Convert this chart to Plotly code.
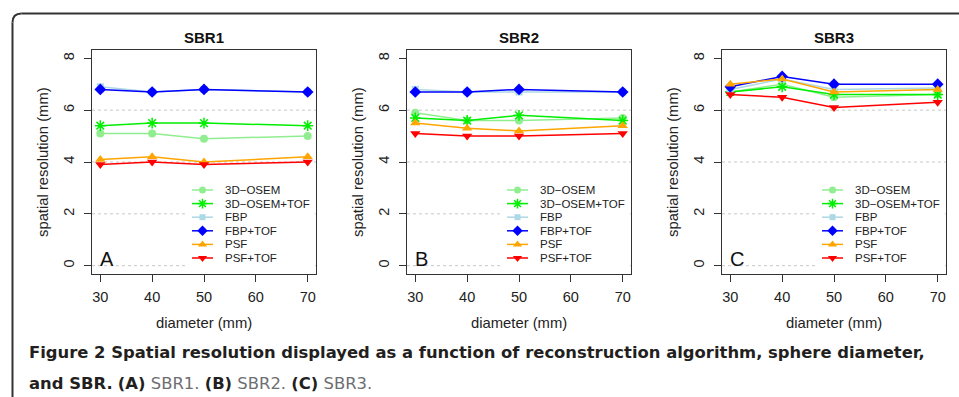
import plotly.graph_objects as go

# ---------------- data ----------------
diameters = [30, 40, 50, 70]
x_ticks = [30, 40, 50, 60, 70]
y_ticks = [0, 2, 4, 6, 8]
grid_values = [0, 2, 4, 6]
series_names = ["3D\u2212OSEM", "3D\u2212OSEM+TOF", "FBP", "FBP+TOF", "PSF", "PSF+TOF"]
panel_titles = ["SBR1", "SBR2", "SBR3"]
panel_letters = ["A", "B", "C"]

sbr1_osem = [5.1, 5.1, 4.9, 5.0]
sbr1_osem_tof = [5.4, 5.5, 5.5, 5.4]
sbr1_fbp = [6.9, 6.7, 6.8, 6.7]
sbr1_fbp_tof = [6.8, 6.7, 6.8, 6.7]
sbr1_psf = [4.1, 4.2, 4.0, 4.2]
sbr1_psf_tof = [3.9, 4.0, 3.9, 4.0]

sbr2_osem = [5.9, 5.6, 5.6, 5.7]
sbr2_osem_tof = [5.7, 5.6, 5.8, 5.6]
sbr2_fbp = [6.8, 6.7, 6.7, 6.7]
sbr2_fbp_tof = [6.7, 6.7, 6.8, 6.7]
sbr2_psf = [5.5, 5.3, 5.2, 5.4]
sbr2_psf_tof = [5.1, 5.0, 5.0, 5.1]

sbr3_osem = [6.7, 7.0, 6.5, 6.6]
sbr3_osem_tof = [6.7, 6.9, 6.6, 6.6]
sbr3_fbp = [6.8, 7.2, 6.8, 6.85]
sbr3_fbp_tof = [6.9, 7.3, 7.0, 7.0]
sbr3_psf = [7.0, 7.2, 6.7, 6.8]
sbr3_psf_tof = [6.6, 6.5, 6.1, 6.3]

caption_line1 = "Figure 2 Spatial resolution displayed as a function of reconstruction algorithm, sphere diameter,"
caption_line2 = ["and SBR.", "(A)", "SBR1.", "(B)", "SBR2.", "(C)", "SBR3."]

panels = [
    [sbr1_osem, sbr1_osem_tof, sbr1_fbp, sbr1_fbp_tof, sbr1_psf, sbr1_psf_tof],
    [sbr2_osem, sbr2_osem_tof, sbr2_fbp, sbr2_fbp_tof, sbr2_psf, sbr2_psf_tof],
    [sbr3_osem, sbr3_osem_tof, sbr3_fbp, sbr3_fbp_tof, sbr3_psf, sbr3_psf_tof],
]

# ---------------- styles ----------------
colors = ["#90EE90", "#00EE00", "#ADD8E6", "#0000FF", "#FFA500", "#FF0000"]
symbols = ["circle", "asterisk-open", "square", "diamond", "triangle-up", "triangle-down"]
msizes = [8, 9, 7, 9, 9, 9]

W, H = 959, 397
FONT = "Liberation Sans, Arial, sans-serif"
AX_COLOR = "#333333"


def X(px):
    return px / W


def Y(py):
    return 1 - py / H


panel_left = [92, 407, 722]
panel_w = 224
p_top, p_bot = 50, 274
x_range = [28.4, 71.6]
y_range = [-0.32, 8.32]

fig = go.Figure()
layout = dict(
    width=W, height=H,
    margin=dict(l=0, r=0, t=0, b=0),
    paper_bgcolor="white", plot_bgcolor="rgba(0,0,0,0)",
    showlegend=False,
    font=dict(family=FONT, size=14, color="#222222"),
)
shapes = []
annotations = []

for k in range(3):
    sx = "" if k == 0 else str(k + 1)
    xa, ya = "x" + sx, "y" + sx
    left = panel_left[k]
    layout["xaxis" + sx] = dict(
        domain=[X(left), X(left + panel_w)], range=x_range, anchor=ya,
        tickvals=x_ticks, ticks="outside", ticklen=7, tickcolor=AX_COLOR,
        showline=True, linecolor=AX_COLOR, linewidth=1, mirror=True,
        showgrid=False, zeroline=False, ticklabelstandoff=3,
        tickfont=dict(family=FONT, size=14.5, color="#222222"),
    )
    layout["yaxis" + sx] = dict(
        domain=[Y(p_bot), Y(p_top)], range=y_range, anchor=xa,
        tickvals=y_ticks, ticks="outside", ticklen=7, tickcolor=AX_COLOR,
        showline=True, linecolor=AX_COLOR, linewidth=1, mirror=True,
        showgrid=False, zeroline=False, tickangle=-90, ticklabelstandoff=4,
        tickfont=dict(family=FONT, size=14.5, color="#222222"),
    )
    # dotted grid lines
    for g in grid_values:
        shapes.append(dict(type="line", xref=xa + " domain", yref=ya,
                           x0=0, x1=1, y0=g, y1=g, layer="below",
                           line=dict(color="#C8C8C8", width=1, dash="dot")))
    # legend background
    shapes.append(dict(type="rect", xref=xa + " domain", yref=ya,
                       x0=96 / panel_w, x1=0.995, y0=(266 - 268) / 26, y1=(266 - 181) / 26,
                       layer="below", fillcolor="white", line=dict(width=0)))

    for s in range(6):
        fig.add_trace(go.Scatter(
            x=diameters, y=panels[k][s], mode="lines+markers", xaxis=xa, yaxis=ya,
            line=dict(color=colors[s], width=1.5),
            marker=dict(symbol=symbols[s], size=msizes[s], color=colors[s],
                        line=dict(color=colors[s], width=1.5 if s == 1 else 0)),
            name=series_names[s],
        ))

    # panel title
    annotations.append(dict(text="<b>" + panel_titles[k] + "</b>", xref="paper", yref="paper",
                            x=X(left + panel_w / 2), y=Y(37), showarrow=False,
                            xanchor="center", yanchor="middle",
                            font=dict(family=FONT, size=15, color="#111111")))
    # axis titles
    annotations.append(dict(text="spatial resolution (mm)", xref="paper", yref="paper",
                            x=X(left - 49), y=Y((p_top + p_bot) / 2), showarrow=False,
                            textangle=-90, xanchor="center", yanchor="middle",
                            font=dict(family=FONT, size=14.8, color="#222222")))
    annotations.append(dict(text="diameter (mm)", xref="paper", yref="paper",
                            x=X(left + panel_w / 2), y=Y(323), showarrow=False,
                            xanchor="center", yanchor="middle",
                            font=dict(family=FONT, size=14.8, color="#222222")))
    # panel letter
    annotations.append(dict(text=panel_letters[k], xref="paper", yref="paper",
                            x=X(left + 14.5), y=Y(259), showarrow=False,
                            xanchor="center", yanchor="middle",
                            font=dict(family=FONT, size=20, color="#111111")))

    # legend (overlay axes)
    li = str(4 + k)
    lxa, lya = "x" + li, "y" + li
    layout["xaxis" + li] = dict(domain=[X(left + 96), X(left + 224)], range=[0, 128],
                                anchor=lya, visible=False, fixedrange=True)
    layout["yaxis" + li] = dict(domain=[Y(268), Y(181)], range=[87, 0],
                                anchor=lxa, visible=False, fixedrange=True)
    for s in range(6):
        row = 9 + 13.6 * s
        fig.add_trace(go.Scatter(x=[4, 25], y=[row, row], mode="lines", xaxis=lxa, yaxis=lya,
                                 line=dict(color=colors[s], width=1.5), hoverinfo="skip"))
        fig.add_trace(go.Scatter(x=[14.5], y=[row], mode="markers", xaxis=lxa, yaxis=lya,
                                 marker=dict(symbol=symbols[s], size=msizes[s] - 1, color=colors[s],
                                             line=dict(color=colors[s], width=1.5 if s == 1 else 0)),
                                 hoverinfo="skip"))
        annotations.append(dict(text=series_names[s], xref=lxa, yref=lya, x=35, y=row,
                                showarrow=False, xanchor="left", yanchor="middle",
                                font=dict(family=FONT, size=11.5, color="#222222")))

# frame (rounded top-left corner)
r = 9
FR = "#333333"
shapes.append(dict(type="line", xref="paper", yref="paper", layer="above",
                   x0=X(12.5), x1=X(12.5), y0=Y(400), y1=Y(13.5 + r),
                   line=dict(color=FR, width=2)))
shapes.append(dict(type="line", xref="paper", yref="paper", layer="above",
                   x0=X(12.5 + r), x1=X(965), y0=Y(13.5), y1=Y(13.5),
                   line=dict(color=FR, width=2)))
shapes.append(dict(type="path", xref="paper", yref="paper", layer="above",
                   path=f"M {X(12.5)},{Y(13.5 + r)} Q {X(12.5)},{Y(13.5)} {X(12.5 + r)},{Y(13.5)}",
                   line=dict(color=FR, width=2)))

# caption
CAP_FONT = "DejaVu Sans, sans-serif"
bold_c = "#231F20"
reg_c = "#6D6E71"
annotations.append(dict(text="<b>" + caption_line1 + "</b>", xref="paper", yref="paper",
                        x=X(27), y=Y(352), showarrow=False, xanchor="left", yanchor="middle",
                        font=dict(family=CAP_FONT, size=16.4, color=bold_c)))
parts = []
for i, p in enumerate(caption_line2):
    if i == 0 or i % 2 == 1:
        parts.append(f"<b><span style='color:{bold_c}'>{p}</span></b>")
    else:
        parts.append(f"<span style='color:{reg_c}'>{p}</span>")
annotations.append(dict(text=" ".join(parts), xref="paper", yref="paper",
                        x=X(27), y=Y(383), showarrow=False, xanchor="left", yanchor="middle",
                        font=dict(family=CAP_FONT, size=16.4, color=bold_c)))

layout["shapes"] = shapes
layout["annotations"] = annotations
fig.update_layout(**layout)
fig.write_html("out.html")
